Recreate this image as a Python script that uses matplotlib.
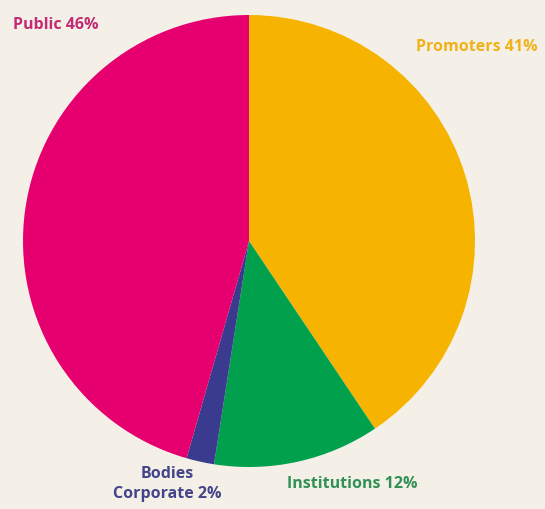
import numpy as np
import matplotlib.pyplot as plt

labels = ["Promoters", "Institutions", "Bodies Corporate", "Public"]
shares = [41, 12, 2, 46]
slice_colors = ["#f6b400", "#00a04c", "#3a3a8e", "#e6006f"]
text_colors = ["#efb21a", "#2f9154", "#44448a", "#c22c74"]

bg = "#f5f0e7"
fig = plt.figure(figsize=(5.45, 5.10), dpi=100, facecolor=bg)
ax = fig.add_axes([0, 0, 1, 1])
ax.set_facecolor(bg)

ax.pie(shares, colors=slice_colors, startangle=90, counterclock=False,
       center=(249, 268), radius=226, frame=True,
       wedgeprops=dict(linewidth=0))
ax.set_xlim(0, 545)
ax.set_ylim(0, 510)
ax.set_aspect("equal")
ax.axis("off")

font = dict(family="Open Sans", fontweight="bold", fontsize=11.5)
ax.text(13, 485, f"{labels[3]} {shares[3]}%", color=text_colors[3],
        ha="left", va="center", **font)
ax.text(538, 463, f"{labels[0]} {shares[0]}%", color=text_colors[0],
        ha="right", va="center", **font)
ax.text(352, 26, f"{labels[1]} {shares[1]}%", color=text_colors[1],
        ha="center", va="center", **font)
ax.text(167, 26, "Bodies\nCorporate %d%%" % shares[2], color=text_colors[2],
        ha="center", va="center", linespacing=1.35, **font)

fig.savefig("out.png", dpi=100, facecolor=bg)
